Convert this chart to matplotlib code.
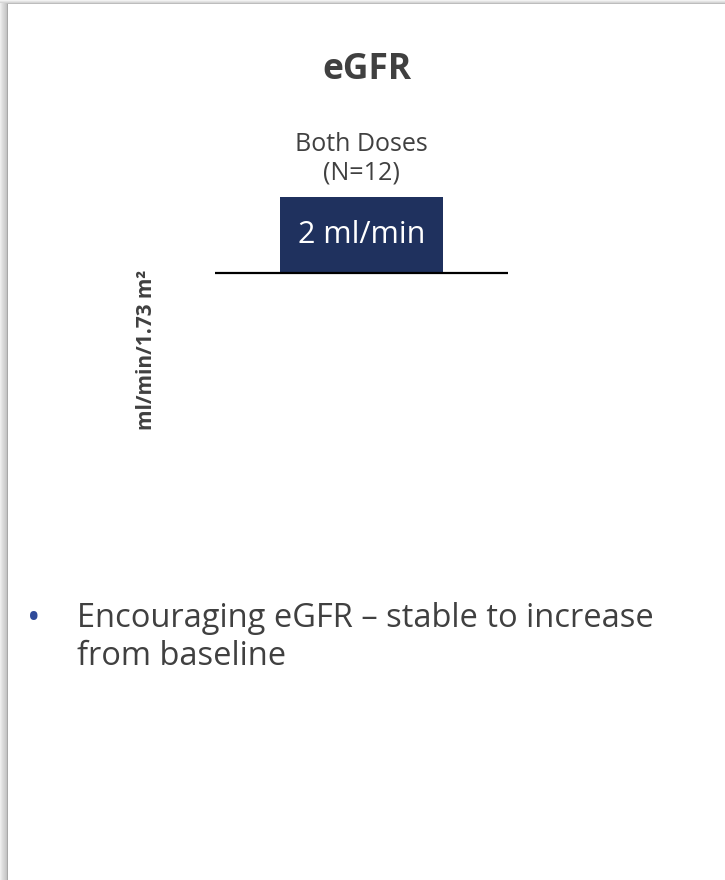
import matplotlib
matplotlib.use("Agg")
import matplotlib.pyplot as plt
from matplotlib.patches import Rectangle

plt.rcParams['font.family'] = ['Open Sans', 'DejaVu Sans']

# change from baseline, both dose groups pooled
groups = ["Both Doses\n(N=12)"]
change = [2]
unit = "ml/min"
y_title = "ml/min/1.73 m²"
note = "Encouraging eGFR – stable to increase\nfrom baseline"

W, H = 725, 880
fig = plt.figure(figsize=(W / 100, H / 100), dpi=100)
fig.patch.set_facecolor("white")


def px(x, y):
    # pixel position (top-left origin) to figure fraction
    return x / W, 1 - y / H


# card edge with a soft shadow on the top and left
for i, c in enumerate(["#eeeeee", "#e6e6e6", "#dedede", "#d8d8d8", "#d2d2d2", "#cccccc", "#c4c4c4"]):
    fig.add_artist(Rectangle((i / W, 0), 1 / W, 1 - 3 / H, transform=fig.transFigure,
                             facecolor=c, edgecolor="none"))
fig.add_artist(Rectangle((7 / W, 0), 1.2 / W, 1 - 3 / H, transform=fig.transFigure,
                         facecolor="#a8a8a8", edgecolor="none"))
for i, c in enumerate(["#f2f2f2", "#e4e4e4", "#d6d6d6"]):
    fig.add_artist(Rectangle((0, 1 - (i + 1) / H), 1, 1 / H, transform=fig.transFigure,
                             facecolor=c, edgecolor="none"))
fig.add_artist(Rectangle((7 / W, 1 - 4.2 / H), 1, 1.2 / H, transform=fig.transFigure,
                         facecolor="#bdbdbd", edgecolor="none"))

# chart area
left, top, right, bottom = 215, 197, 508, 425
ax = fig.add_axes([left / W, 1 - bottom / H, (right - left) / W, (bottom - top) / H])
ax.set_xlim(-0.9, 0.9)
ax.set_ylim(-4, 2)
ax.axis("off")

bars = ax.bar(range(len(change)), change, width=1.0, color="#1f315e", zorder=2)
ax.axhline(0, color="black", lw=1.6, zorder=3)
ax.bar_label(bars, labels=[f"{v:g} {unit}" for v in change], label_type="center",
             color="white", fontsize=22)
for i, (g, v) in enumerate(zip(groups, change)):
    ax.annotate(g, (i, v), xytext=(0, 12.5), textcoords="offset points",
                ha="center", va="baseline", fontsize=18, color="#404040",
                linespacing=1.2)

fig.text(*px(367, 79), "eGFR", ha="center", va="baseline", fontsize=25.5,
         fontweight="bold", color="#404040")
fig.text(*px(146, 350), y_title, rotation=90, ha="center", va="center",
         fontsize=15, fontweight="bold", color="#404040")

fig.text(*px(34, 629), "•", ha="center", va="baseline", fontsize=26, color="#2f4b9a")
fig.text(*px(77, 665), note, ha="left", va="baseline", fontsize=23.5,
         color="#404040", linespacing=1.2)

fig.savefig("out.png", dpi=100)
